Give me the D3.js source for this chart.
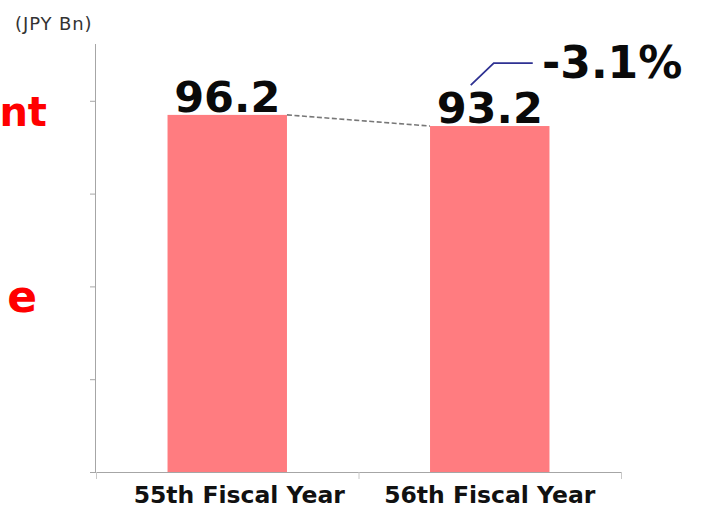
<!DOCTYPE html>
<html>
<head>
<meta charset="utf-8">
<script src="https://cdn.jsdelivr.net/npm/d3@7"></script>
<style>
html,body{margin:0;padding:0;background:#fff;}
svg{display:block;}
text{font-family:"DejaVu Sans",Verdana,sans-serif;}
</style>
</head>
<body>
<script>
const categories = ["55th Fiscal Year", "56th Fiscal Year"];
const values = [96.2, 93.2];
const valueLabels = ["96.2", "93.2"];
const yTicks = [0, 25, 50, 75, 100];
const changeLabel = "-3.1%";
const unitLabel = "(JPY Bn)";
const sideTexts = ["nt", "e"];

const W = 704, H = 508;
const svg = d3.select("body").append("svg").attr("width", W).attr("height", H);

const x = d3.scaleBand().domain(categories).range([96, 621]).padding(0);
const y = d3.scaleLinear().domain([0, 115.3]).range([472, 44]);
const barW = x.bandwidth() * 0.455;
const bx = d => x(d) + (x.bandwidth() - barW) / 2;

// unit label
svg.append("text").attr("x", 15).attr("y", 30)
  .attr("font-size", 18).attr("fill", "#333").attr("letter-spacing", 0.9)
  .text(unitLabel);

// red clipped side texts
svg.append("text").attr("x", 47).attr("y", 126).attr("text-anchor", "end")
  .attr("font-size", 40).attr("font-weight", "bold").attr("fill", "#ff0000").text(sideTexts[0]);
svg.append("text").attr("x", 37).attr("y", 312).attr("text-anchor", "end")
  .attr("font-size", 44).attr("font-weight", "bold").attr("fill", "#ff0000").text(sideTexts[1]);

// y axis
const yAxis = svg.append("g").attr("transform", "translate(96,0)")
  .call(d3.axisLeft(y).tickValues(yTicks).tickSize(6).tickFormat(""));
yAxis.select(".domain").attr("stroke", "#a6a6a6").attr("d", `M-0.5,${y(115.3)}V${y(0)}`);
yAxis.selectAll(".tick line").attr("stroke", "#a6a6a6");

// bars
svg.selectAll("rect.bar").data(categories).join("rect").attr("class", "bar")
  .attr("x", d => bx(d)).attr("width", barW)
  .attr("y", (d, i) => y(values[i])).attr("height", (d, i) => y(0) - y(values[i]))
  .attr("fill", "#ff7c80");

// x axis
const xAxis = svg.append("g").attr("transform", `translate(0,${y(0)})`)
  .call(d3.axisBottom(x).tickSize(0).tickSizeOuter(0));
xAxis.select(".domain").attr("stroke", "#a6a6a6");
const bounds = [x.range()[0], x(categories[1]), x.range()[1]];
xAxis.selectAll("line.bound").data(bounds).join("line").attr("class", "bound")
  .attr("x1", d => d + 0.5).attr("x2", d => d + 0.5).attr("y1", 0).attr("y2", 7)
  .attr("stroke", "#c8c8c8");
xAxis.selectAll(".tick text")
  .attr("font-family", "DejaVu Sans, Verdana, sans-serif")
  .attr("font-size", 23.5).attr("font-weight", "bold").attr("fill", "#111")
  .attr("dy", 0).attr("y", 31)
  .attr("dx", (d, i) => i === 0 ? 12 : 0);

// dashed connector between bar tops
svg.append("line")
  .attr("x1", bx(categories[0]) + barW).attr("y1", y(values[0]))
  .attr("x2", bx(categories[1])).attr("y2", y(values[1]))
  .attr("stroke", "#777").attr("stroke-width", 1.6).attr("stroke-dasharray", "5,2.5");

// value labels
svg.selectAll("text.val").data(categories).join("text").attr("class", "val")
  .attr("x", d => x(d) + x.bandwidth() / 2).attr("y", (d, i) => y(values[i]) - 3)
  .attr("text-anchor", "middle").attr("font-size", 43).attr("font-weight", "bold").attr("fill", "#0a0a0a")
  .text((d, i) => valueLabels[i]);

// change callout
const cx0 = x(categories[1]) + x.bandwidth() / 2;
svg.append("path")
  .attr("d", `M${cx0 - 19},${y(values[1]) - 41} L${cx0 + 4},${y(values[1]) - 63} L${cx0 + 43},${y(values[1]) - 63}`)
  .attr("fill", "none").attr("stroke", "#2e3192").attr("stroke-width", 1.8);
svg.append("text").attr("x", 542).attr("y", 78)
  .attr("font-size", 44).attr("font-weight", "bold").attr("fill", "#0a0a0a").text(changeLabel);
</script>
</body>
</html>
